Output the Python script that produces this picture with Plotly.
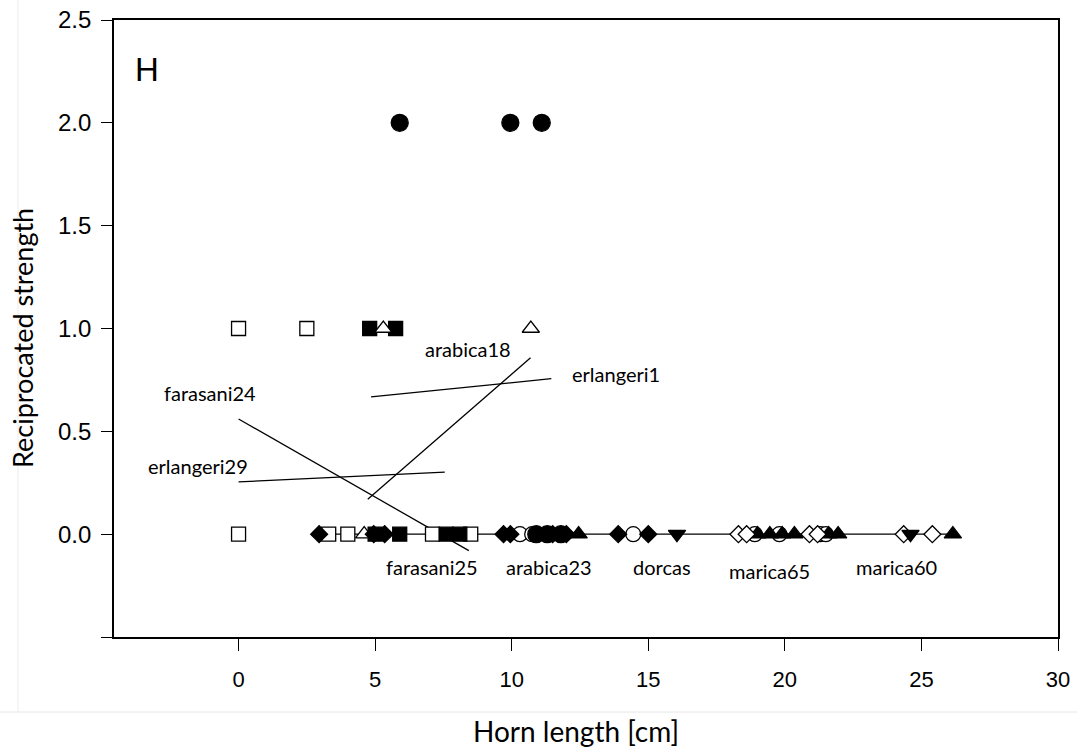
import plotly.graph_objects as go

# ---- data (horn length [cm], reciprocated strength) ----
filled_circle_x = [10.9, 11.3, 11.8, 5.9, 9.95, 11.1]
filled_circle_y = [0, 0, 0, 2.0, 2.0, 2.0]
open_square_x = [0, 2.5, 0, 3.3, 4.0, 7.1, 8.5]
open_square_y = [1, 1, 0, 0, 0, 0, 0]
filled_square_x = [4.8, 5.75, 5.0, 5.9, 7.6, 8.1]
filled_square_y = [1, 1, 0, 0, 0, 0]
open_triangle_x = [5.3, 10.7, 4.6]
open_triangle_y = [1, 1, 0]
filled_diamond_x = [2.95, 4.95, 5.35, 9.7, 9.95, 11.5, 12.0, 13.9, 15.0]
filled_diamond_y = [0, 0, 0, 0, 0, 0, 0, 0, 0]
open_circle_x = [10.3, 10.75, 14.45, 18.9, 19.8, 21.3, 21.5]
open_circle_y = [0, 0, 0, 0, 0, 0, 0]
filled_triangle_x = [12.45, 19.0, 19.45, 19.9, 20.35, 21.6, 21.95, 26.15]
filled_triangle_y = [0, 0, 0, 0, 0, 0, 0, 0]
open_diamond_x = [18.3, 18.6, 20.9, 21.2, 24.35, 25.4]
open_diamond_y = [0, 0, 0, 0, 0, 0]
filled_down_x = [16.05, 24.6]
filled_down_y = [0, 0]

# fitted lines (endpoints)
zero_line_x = [3.0, 26.2]
zero_line_y = [0, 0]
farasani24_x = [0, 8.43]
farasani24_y = [0.56, -0.08]
erlangeri29_x = [0, 7.55]
erlangeri29_y = [0.254, 0.302]
arabica18_x = [4.73, 10.69]
arabica18_y = [0.17, 0.858]
erlangeri1_x = [4.85, 11.45]
erlangeri1_y = [0.668, 0.756]

# line labels
label_text = ["arabica18", "erlangeri1", "farasani24", "erlangeri29",
              "farasani25", "arabica23", "dorcas", "marica65", "marica60"]
label_x = [8.4, 13.8, -1.06, -1.5, 7.1, 11.35, 15.5, 19.45, 24.1]
label_y = [0.898, 0.777, 0.684, 0.33, -0.16, -0.16, -0.16, -0.18, -0.16]

y_tickvals = [-0.5, 0.0, 0.5, 1.0, 1.5, 2.0, 2.5]
y_ticktext = ["", "0.0", "0.5", "1.0", "1.5", "2.0", "2.5"]
x_tickvals = [0, 5, 10, 15, 20, 25, 30]

W, H = 1077, 751
ML, MR, MT, MB = 114, 19, 20, 114
PW, PH = W - ML - MR, H - MT - MB


def px_x(p):
    return (p - ML) / PW


def px_y(p):
    return (H - MB - p) / PH


fig = go.Figure()

for lx, ly in [(zero_line_x, zero_line_y), (farasani24_x, farasani24_y),
               (erlangeri29_x, erlangeri29_y), (arabica18_x, arabica18_y),
               (erlangeri1_x, erlangeri1_y)]:
    fig.add_trace(go.Scatter(x=lx, y=ly, mode="lines",
                             line=dict(color="black", width=1.3),
                             showlegend=False, hoverinfo="skip"))


def add_markers(x, y, symbol, size, filled):
    fig.add_trace(go.Scatter(
        x=x, y=y, mode="markers", showlegend=False,
        marker=dict(symbol=symbol, size=size,
                    color="black" if filled else "white",
                    line=dict(color="black", width=1.3))))


add_markers(open_circle_x, open_circle_y, "circle", 15, False)
add_markers(filled_circle_x, filled_circle_y, "circle", 17, True)
add_markers(open_square_x, open_square_y, "square", 14, False)
add_markers(filled_square_x, filled_square_y, "square", 14, True)
add_markers(open_triangle_x, open_triangle_y, "triangle-up", 15, False)
add_markers(filled_diamond_x, filled_diamond_y, "diamond", 13, True)
add_markers(filled_triangle_x, filled_triangle_y, "triangle-up", 15, True)
add_markers(open_diamond_x, open_diamond_y, "diamond", 13, False)
add_markers(filled_down_x, filled_down_y, "triangle-down", 15, True)

annotations = []
for t, x, y in zip(label_text, label_x, label_y):
    annotations.append(dict(x=x, y=y, xref="x", yref="y", text=t, showarrow=False,
                            font=dict(family="Lato", size=20, color="black")))
annotations.append(dict(x=-3.36, y=2.26, xref="x", yref="y", text="H", showarrow=False,
                        xanchor="center", yanchor="middle",
                        font=dict(family="Liberation Sans", size=33, color="black")))
annotations.append(dict(x=px_x(576), y=px_y(731), xref="paper", yref="paper",
                        text="Horn length [cm]", showarrow=False,
                        xanchor="center", yanchor="middle",
                        font=dict(family="Lato", size=28, color="black")))
annotations.append(dict(x=px_x(22), y=px_y(338), xref="paper", yref="paper",
                        text="Reciprocated strength", showarrow=False, textangle=-90,
                        xanchor="center", yanchor="middle",
                        font=dict(family="Lato", size=27, color="black")))

fig.update_layout(
    width=W, height=H,
    margin=dict(l=ML, r=MR, t=MT, b=MB),
    paper_bgcolor="white", plot_bgcolor="white",
    annotations=annotations,
    shapes=[
        dict(type="line", xref="paper", yref="paper", x0=px_x(0), x1=px_x(W),
             y0=px_y(712), y1=px_y(712),
             line=dict(color="#e6e6e6", width=1), layer="below"),
        dict(type="line", xref="paper", yref="paper", x0=px_x(18), x1=px_x(18),
             y0=px_y(0), y1=px_y(712),
             line=dict(color="#ececec", width=1), layer="below"),
    ],
    xaxis=dict(range=[-4.56, 30], tickvals=x_tickvals, ticks="outside", ticklen=12,
               tickwidth=1.3, tickcolor="black", showline=True, linecolor="black",
               linewidth=1.8, mirror=True, showgrid=False, zeroline=False,
               ticklabelstandoff=10, automargin=False,
               tickfont=dict(family="Liberation Sans", size=22, color="black")),
    yaxis=dict(range=[-0.5, 2.5], tickvals=y_tickvals, ticktext=y_ticktext,
               ticks="outside", ticklen=11, tickwidth=1.3, tickcolor="black",
               showline=True, linecolor="black", linewidth=1.8, mirror=True,
               showgrid=False, zeroline=False, ticklabelstandoff=5, automargin=False,
               tickfont=dict(family="Liberation Sans", size=24, color="black")),
)

fig.write_html("out.html", config={"displayModeBar": False},
               post_script="document.body.style.margin='0';document.body.style.overflow='hidden';")
